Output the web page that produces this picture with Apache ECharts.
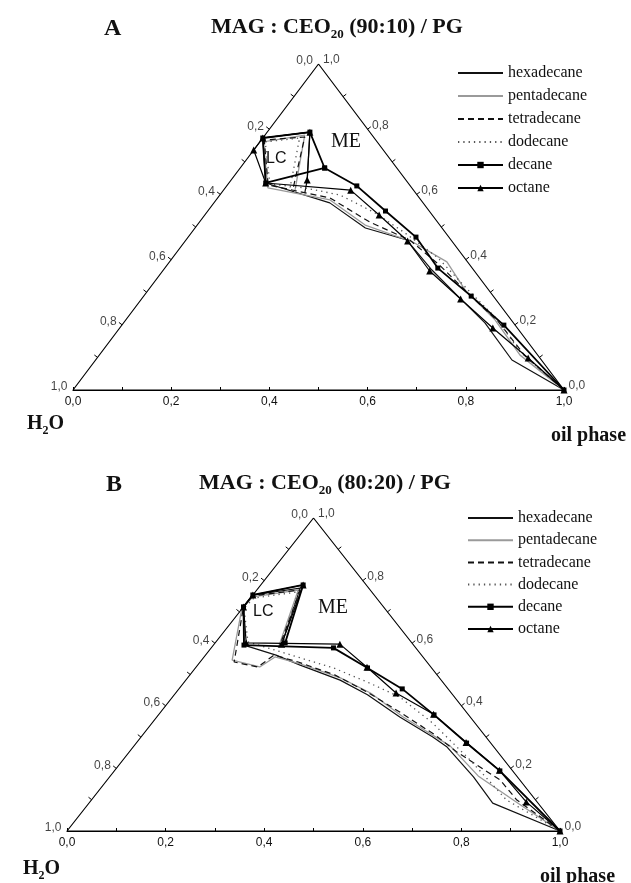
<!DOCTYPE html>
<html><head><meta charset="utf-8">
<script src="https://cdn.jsdelivr.net/npm/echarts@6/dist/echarts.min.js"></script>
<style>html,body{margin:0;padding:0;background:#fff;}#c{width:631px;height:883px;}</style>
</head><body><div id="c"></div>
<script>
// Ternary data: each point = [oil phase fraction, surfactant (MAG:CEO20/PG) fraction]; water = 1 - oil - surfactant
const oilNames = ['hexadecane','pentadecane','tetradecane','dodecane','decane','octane'];

// Panel A: MAG : CEO20 (90:10) / PG
const A_hexadecane = [[1,0],[0.848,0.092],[0.736,0.206],[0.647,0.282],[0.547,0.368],[0.450,0.460],[0.347,0.497],[0.236,0.574],[0.075,0.635],[0.000,0.773],[0.087,0.791],[0.155,0.644],[0.170,0.604]];
const A_pentadecane = [[1,0],[0.857,0.107],[0.752,0.215],[0.645,0.307],[0.565,0.393],[0.465,0.454],[0.342,0.506],[0.232,0.583],[0.087,0.620],[0.007,0.761],[0.081,0.782],[0.148,0.607]];
const A_tetradecane = [[1,0],[0.869,0.104],[0.762,0.209],[0.663,0.291],[0.555,0.383],[0.456,0.460],[0.347,0.515],[0.229,0.589],[0.083,0.629],[0.006,0.767],[0.084,0.776],[0.141,0.613]];
const A_dodecane = [[1,0],[0.852,0.117],[0.751,0.221],[0.651,0.307],[0.541,0.405],[0.435,0.482],[0.344,0.543],[0.245,0.598],[0.162,0.620],[0.085,0.632],[0.011,0.761],[0.075,0.773],[0.132,0.620]];
const A_decane = [[1,0],[0.778,0.199],[0.667,0.288],[0.556,0.374],[0.464,0.469],[0.362,0.549],[0.265,0.626],[0.172,0.681],[0.087,0.791],[0.000,0.773],[0.075,0.635],[0.172,0.681]];
const A_octane = [[1,0],[0.878,0.098],[0.760,0.190],[0.650,0.279],[0.544,0.365],[0.453,0.457],[0.355,0.537],[0.259,0.613],[0.075,0.635],[0.000,0.736],[0.000,0.773],[0.087,0.791],[0.155,0.644]];

// Panel B: MAG : CEO20 (80:20) / PG
const B_hexadecane = [[1,0],[0.819,0.089],[0.738,0.173],[0.637,0.268],[0.592,0.300],[0.493,0.364],[0.392,0.435],[0.313,0.482],[0.208,0.530],[0.143,0.562],[0.062,0.594],[0.000,0.716],[0.000,0.754],[0.085,0.776],[0.138,0.594]];
const B_pentadecane = [[1,0],[0.883,0.080],[0.746,0.176],[0.641,0.272],[0.500,0.364],[0.395,0.441],[0.310,0.489],[0.206,0.534],[0.144,0.556],[0.129,0.524],[0.062,0.546],[0.000,0.709],[0.003,0.748],[0.084,0.770],[0.136,0.585]];
const B_tetradecane = [[1,0],[0.863,0.099],[0.797,0.163],[0.665,0.252],[0.593,0.307],[0.485,0.380],[0.387,0.444],[0.295,0.498],[0.199,0.540],[0.139,0.562],[0.125,0.524],[0.069,0.540],[0.000,0.716],[0.000,0.751],[0.088,0.770],[0.135,0.594]];
const B_dodecane = [[1,0],[0.842,0.099],[0.704,0.227],[0.569,0.345],[0.461,0.428],[0.371,0.476],[0.280,0.521],[0.197,0.553],[0.133,0.578],[0.065,0.604],[0.003,0.712],[0.007,0.744],[0.087,0.764],[0.140,0.594]];
const B_decane = [[1,0],[0.782,0.192],[0.670,0.281],[0.559,0.371],[0.453,0.454],[0.349,0.521],[0.248,0.585],[0.062,0.594],[0.000,0.716],[0.000,0.754],[0.086,0.786],[0.142,0.601]];
const B_octane = [[1,0],[0.885,0.093],[0.780,0.194],[0.668,0.283],[0.557,0.373],[0.447,0.441],[0.347,0.523],[0.255,0.597],[0.063,0.601],[0.000,0.716],[0.000,0.754],[0.086,0.786],[0.137,0.597]];

// Axis ticks / labels
const tickValues = [0, 0.2, 0.4, 0.6, 0.8, 1.0];
const tickLabels = ['0,0','0,2','0,4','0,6','0,8','1,0'];
const edgeMinorTicks = [0.1,0.2,0.3,0.4,0.5,0.6,0.7,0.8,0.9];

const panelA = [A_hexadecane, A_pentadecane, A_tetradecane, A_dodecane, A_decane, A_octane];
const panelB = [B_hexadecane, B_pentadecane, B_tetradecane, B_dodecane, B_decane, B_octane];

const styles = {
  hexadecane:  {color:'#111', width:1.2, type:'solid', symbol:'none', size:0},
  pentadecane: {color:'#9a9a9a', width:1.3, type:'solid', symbol:'none', size:0},
  tetradecane: {color:'#111', width:1.2, type:[6,4], symbol:'none', size:0},
  dodecane:    {color:'#555', width:1.3, type:[1.3,4], symbol:'none', size:0},
  decane:      {color:'#000', width:1.8, type:'solid', symbol:'rect', size:5},
  octane:      {color:'#000', width:1.2, type:'solid', symbol:'triangle', size:7}
};

function toXY(p){ return [p[0] + p[1]/2, p[1]]; }

const chart = echarts.init(document.getElementById('c'));
const serif = 'Liberation Serif';
const sans = 'Liberation Sans';

function renderEdgeTick(params, api){
  const v = api.value(0), side = api.value(1);
  let p, a, b;
  if (side === 0) { p = api.coord([(1-v)/2, 1-v]); a = api.coord([0,0]); b = api.coord([0.5,1]); }
  else { p = api.coord([1-v/2, v]); a = api.coord([1,0]); b = api.coord([0.5,1]); }
  const dx = b[0]-a[0], dy = b[1]-a[1], L = Math.hypot(dx,dy);
  let nx = dy/L, ny = -dx/L;
  if (side === 1) { nx = -nx; ny = -ny; }
  return {type:'line', shape:{x1:p[0], y1:p[1], x2:p[0]+nx*4, y2:p[1]+ny*4}, style:{stroke:'#000', lineWidth:1}};
}

const grids = [
  {left:73, top:64, width:491, height:326},
  {left:67, top:518, width:493, height:313}
];
const xAxes = [], yAxes = [], series = [];
[panelA, panelB].forEach((panel, gi) => {
  xAxes.push({type:'value', gridIndex:gi, min:0, max:1, interval:0.1,
    axisLine:{show:true, lineStyle:{color:'#000', width:1.2}},
    axisTick:{show:true, inside:true, length:3, lineStyle:{color:'#000', width:1}},
    splitLine:{show:false},
    axisLabel:{margin:6, fontFamily:sans, fontSize:12, color:'#111',
      formatter: v => { const k = Math.round(v*10); return k % 2 === 0 ? tickLabels[k/2] : ''; }}
  });
  yAxes.push({type:'value', gridIndex:gi, min:0, max:1, show:false});
  // triangle frame
  series.push({type:'line', xAxisIndex:gi, yAxisIndex:gi, silent:true, symbol:'none',
    data:[[0,0],[1,0],[0.5,1],[0,0]], lineStyle:{color:'#000', width:1.2}, z:1});
  // edge ticks
  const tickData = [];
  edgeMinorTicks.forEach(v => { tickData.push([v,0]); tickData.push([v,1]); });
  series.push({type:'custom', xAxisIndex:gi, yAxisIndex:gi, silent:true, renderItem:renderEdgeTick, data:tickData, z:1});
  // edge labels (left edge: water fraction, right edge: surfactant fraction)
  series.push({type:'scatter', xAxisIndex:gi, yAxisIndex:gi, silent:true, symbolSize:1, itemStyle:{color:'rgba(0,0,0,0)'},
    data: tickValues.map((w,i) => [(1-w)/2, 1-w, tickLabels[i]]),
    label:{show:true, position:'left', distance:5, offset:[0,-3], formatter:p => p.value[2], fontFamily:sans, fontSize:12, color:'#111'}});
  series.push({type:'scatter', xAxisIndex:gi, yAxisIndex:gi, silent:true, symbolSize:1, itemStyle:{color:'rgba(0,0,0,0)'},
    data: tickValues.map((s,i) => [1-s/2, s, tickLabels[i]]),
    label:{show:true, position:'right', distance:4, offset:[0,-4], formatter:p => p.value[2], fontFamily:sans, fontSize:12, color:'#111'}});
  // phase boundaries
  panel.forEach((pts, k) => {
    const st = styles[oilNames[k]];
    series.push({type:'line', name:oilNames[k], xAxisIndex:gi, yAxisIndex:gi,
      data: pts.map(toXY), symbol:st.symbol, symbolSize:st.size, showSymbol: st.symbol !== 'none',
      lineStyle:{color:st.color, width:st.width, type:st.type}, itemStyle:{color:st.color},
      clip:false, z:3, animation:false});
  });
});

const legendData = oilNames.map(n => styles[n].symbol === 'none' ? {name:n, itemStyle:{opacity:0}} : {name:n});

const titleRich = {
  t:{fontFamily:serif, fontSize:22, color:'#111', lineHeight:28, verticalAlign:'middle'},
  s:{fontFamily:serif, fontSize:13, color:'#111', lineHeight:12, verticalAlign:'bottom'}
};
const labRich = {
  t:{fontFamily:serif, fontSize:20, fontWeight:'bold', color:'#111', lineHeight:26, verticalAlign:'middle'},
  s:{fontFamily:serif, fontSize:12, fontWeight:'bold', color:'#111', lineHeight:10, verticalAlign:'bottom'}
};

chart.setOption({
  animation:false,
  backgroundColor:'#fff',
  grid: grids, xAxis: xAxes, yAxis: yAxes, series: series,
  title: [
    {text:'A', left:99, top:12, textStyle:{fontFamily:serif, fontWeight:'bold', fontSize:24, color:'#111'}},
    {text:'{t|MAG : CEO}{s|20}{t| (90:10) / PG}', left:206, top:8, textStyle:{rich:titleRich}},
    {text:'B', left:101, top:468, textStyle:{fontFamily:serif, fontWeight:'bold', fontSize:24, color:'#111'}},
    {text:'{t|MAG : CEO}{s|20}{t| (80:20) / PG}', left:194, top:464, textStyle:{rich:titleRich}},
    {text:'{t|H}{s|2}{t|O}', left:22, top:406, textStyle:{rich:labRich}},
    {text:'{t|oil phase}', left:546, top:418, textStyle:{rich:labRich}},
    {text:'{t|H}{s|2}{t|O}', left:18, top:851, textStyle:{rich:labRich}},
    {text:'{t|oil phase}', left:535, top:859, textStyle:{rich:labRich}}
  ],
  legend: [
    {data:legendData, orient:'vertical', left:452, top:60, itemWidth:45, itemHeight:8, itemGap:7,
     selectedMode:false, textStyle:{fontFamily:serif, fontSize:16, lineHeight:14, color:'#111'}},
    {data:legendData, orient:'vertical', left:462, top:505, itemWidth:45, itemHeight:8, itemGap:6.2,
     selectedMode:false, textStyle:{fontFamily:serif, fontSize:16, lineHeight:14, color:'#111'}}
  ],
  graphic: [
    {type:'text', left:266, top:151, style:{text:'LC', font:'16px "Liberation Sans"', fill:'#111'}},
    {type:'text', left:331, top:132, style:{text:'ME', font:'20px "Liberation Serif"', fill:'#111'}},
    {type:'text', left:253, top:604, style:{text:'LC', font:'16px "Liberation Sans"', fill:'#111'}},
    {type:'text', left:318, top:598, style:{text:'ME', font:'20px "Liberation Serif"', fill:'#111'}}
  ]
});
</script></body></html>
